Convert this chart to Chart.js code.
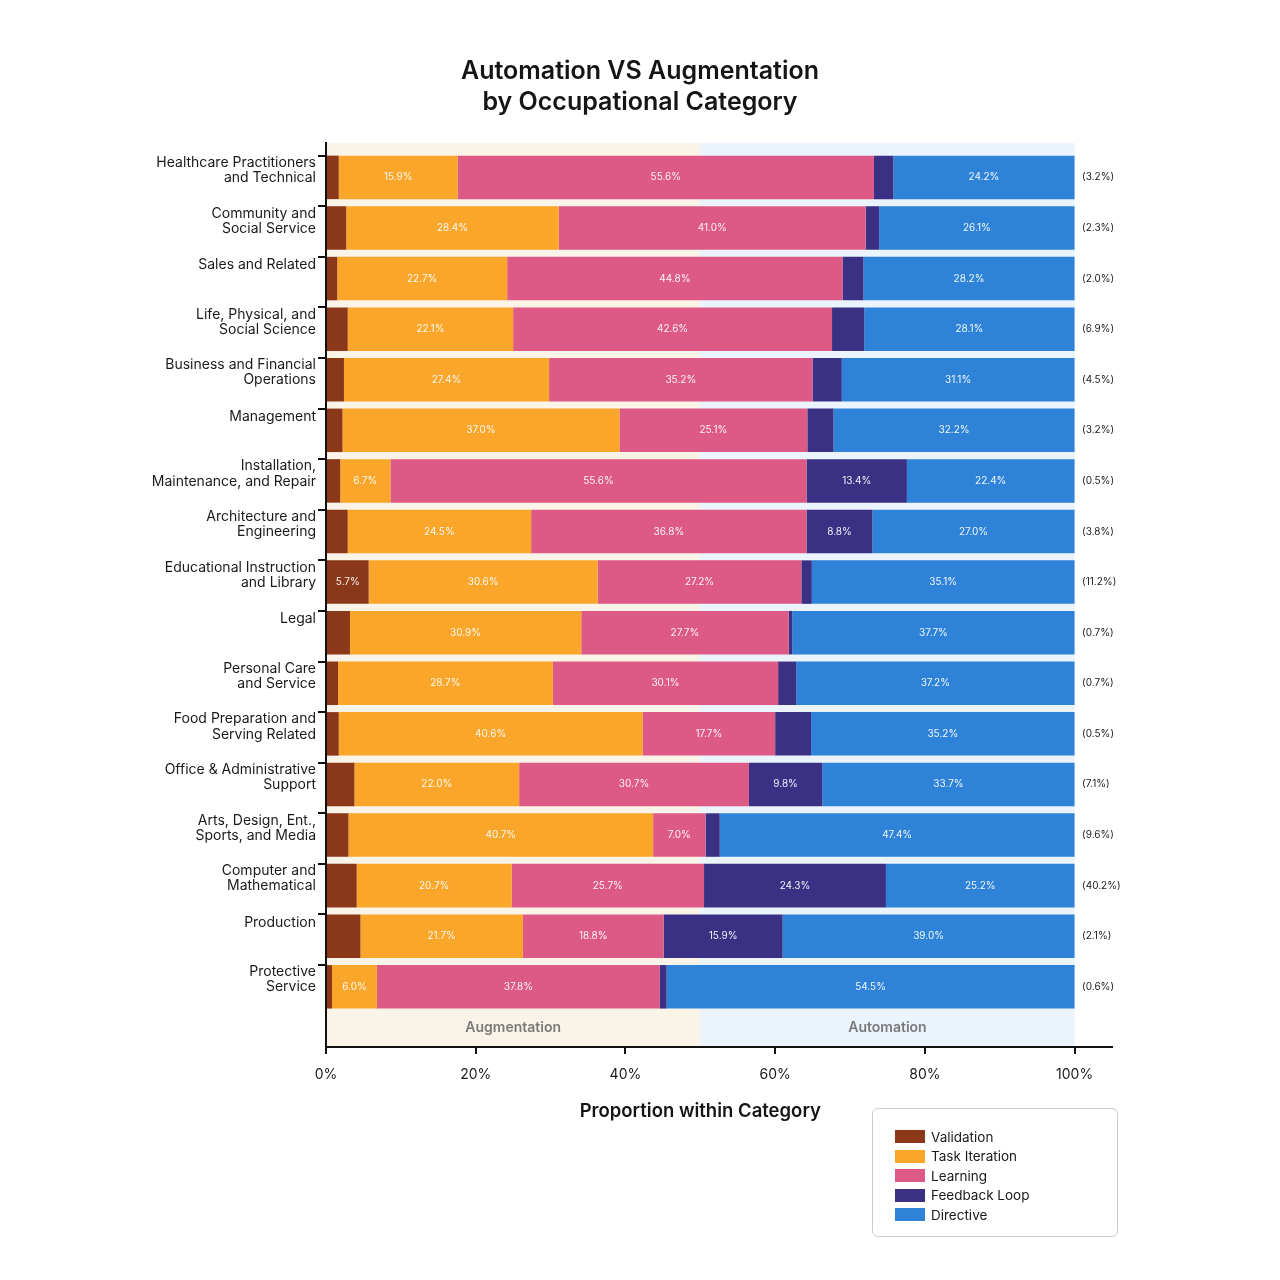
<!DOCTYPE html>
<html>
<head>
<meta charset="utf-8">
<title>Automation VS Augmentation by Occupational Category</title>
<script src="https://cdn.jsdelivr.net/npm/chart.js@4.4.1/dist/chart.umd.min.js"></script>
<style>
  body { margin: 0; background: #fff; }
  #wrap { position: relative; width: 1280px; height: 1280px; }
  #legend {
    position: absolute; left: 872px; top: 1108px; width: 246px; height: 129px;
    box-sizing: border-box; border: 1.5px solid #cbcac3; border-radius: 6px;
    padding: 18px 0 0 22px; font-family: Inter, "Noto Sans", sans-serif;
    font-size: 13.5px; color: #1a1a1a;
  }
  .item { display: flex; align-items: center; height: 19.5px; }
  .swatch { width: 30px; height: 13px; margin-right: 6px; }
</style>
</head>
<body>
<div id="wrap">
  <canvas id="chart"></canvas>
  <div id="legend"></div>
</div>
<script>
const categories = [
  'Healthcare Practitioners\nand Technical',
  'Community and\nSocial Service',
  'Sales and Related',
  'Life, Physical, and\nSocial Science',
  'Business and Financial\nOperations',
  'Management',
  'Installation,\nMaintenance, and Repair',
  'Architecture and\nEngineering',
  'Educational Instruction\nand Library',
  'Legal',
  'Personal Care\nand Service',
  'Food Preparation and\nServing Related',
  'Office & Administrative\nSupport',
  'Arts, Design, Ent.,\nSports, and Media',
  'Computer and\nMathematical',
  'Production',
  'Protective\nService'
]
const seriesNames = ['Validation', 'Task Iteration', 'Learning', 'Feedback Loop', 'Directive']
const validation = [1.7, 2.7, 1.5, 2.9, 2.4, 2.2, 1.9, 2.9, 5.7, 3.2, 1.6, 1.7, 3.8, 3.0, 4.1, 4.6, 0.8]
const taskIteration = [15.9, 28.4, 22.7, 22.1, 27.4, 37.0, 6.7, 24.5, 30.6, 30.9, 28.7, 40.6, 22.0, 40.7, 20.7, 21.7, 6.0]
const learning = [55.6, 41.0, 44.8, 42.6, 35.2, 25.1, 55.6, 36.8, 27.2, 27.7, 30.1, 17.7, 30.7, 7.0, 25.7, 18.8, 37.8]
const feedbackLoop = [2.6, 1.8, 2.8, 4.3, 3.9, 3.5, 13.4, 8.8, 1.4, 0.5, 2.4, 4.8, 9.8, 1.9, 24.3, 15.9, 0.9]
const directive = [24.2, 26.1, 28.2, 28.1, 31.1, 32.2, 22.4, 27.0, 35.1, 37.7, 37.2, 35.2, 33.7, 47.4, 25.2, 39.0, 54.5]
const categoryShare = [3.2, 2.3, 2.0, 6.9, 4.5, 3.2, 0.5, 3.8, 11.2, 0.7, 0.7, 0.5, 7.1, 9.6, 40.2, 2.1, 0.6]
const xTicks = [0, 20, 40, 60, 80, 100]
const zoneLabels = ['Augmentation', 'Automation']
const xTitle = 'Proportion within Category'

const colors = ['#8b3719', '#f9a62a', '#de5a86', '#3a3185', '#2e83d9']
const FONT = 'Inter, "Noto Sans", sans-serif'
Chart.defaults.font.family = FONT
Chart.defaults.color = '#1a1a1a'

const allSeries = [validation, taskIteration, learning, feedbackLoop, directive]
const datasets = allSeries.map((vals, s) => ({
  label: seriesNames[s],
  data: vals.map((v, i) => ({ x: v, y: i })),
  backgroundColor: colors[s],
  borderWidth: 0,
  categoryPercentage: 1,
  barPercentage: 0.86
}))

// shaded augmentation / automation zones behind the bars
const zoneBackground = {
  id: 'zoneBackground',
  beforeDraw(chart) {
    const { ctx, chartArea, scales } = chart
    const x = scales.x
    const x0 = x.getPixelForValue(0), x50 = x.getPixelForValue(50), x100 = x.getPixelForValue(100)
    const h = chartArea.bottom - chartArea.top
    ctx.save()
    ctx.fillStyle = '#faf3e8'
    ctx.fillRect(x0, chartArea.top, x50 - x0, h)
    ctx.fillStyle = '#ebf3fc'
    ctx.fillRect(x50, chartArea.top, x100 - x50, h)
    ctx.font = '600 14px ' + FONT
    ctx.fillStyle = '#7a7a7a'
    ctx.textAlign = 'center'
    ctx.textBaseline = 'middle'
    const yz = scales.y.getPixelForValue(categories.length - 1 + 0.81)
    ctx.fillText(zoneLabels[0], x.getPixelForValue(25), yz)
    ctx.fillText(zoneLabels[1], x.getPixelForValue(75), yz)
    // axis title, centred under the 0-100% range
    ctx.font = '600 18.5px ' + FONT
    ctx.fillStyle = '#151515'
    ctx.fillText(xTitle, x.getPixelForValue(50), 1111)
    ctx.restore()
  }
}

// value labels inside segments and category share at the right
const barLabels = {
  id: 'barLabels',
  afterDatasetsDraw(chart) {
    const { ctx, scales } = chart
    ctx.save()
    ctx.textAlign = 'center'
    ctx.textBaseline = 'middle'
    ctx.font = '10px ' + FONT
    ctx.fillStyle = 'rgba(255,255,255,0.93)'
    chart.data.datasets.forEach((ds, di) => {
      chart.getDatasetMeta(di).data.forEach((bar, i) => {
        const v = ds.data[i].x
        if (v < 5) return
        const p = bar.getProps(['x', 'base', 'y'], true)
        ctx.fillText(v.toFixed(1) + '%', (p.x + p.base) / 2, p.y)
      })
    })
    ctx.textAlign = 'left'
    ctx.fillStyle = '#1a1a1a'
    categoryShare.forEach((v, i) => {
      ctx.fillText('(' + v.toFixed(1) + '%)', scales.x.getPixelForValue(101), scales.y.getPixelForValue(i))
    })
    ctx.restore()
  }
}

const legend = document.getElementById('legend')
seriesNames.forEach((name, s) => {
  const row = document.createElement('div')
  row.className = 'item'
  row.innerHTML = '<span class="swatch" style="background:' + colors[s] + '"></span>' + name
  legend.appendChild(row)
})

const yMin = -0.68
const yMax = categories.length - 1 + 1.19

new Chart(document.getElementById('chart'), {
  type: 'bar',
  data: { datasets },
  plugins: [zoneBackground, barLabels],
  options: {
    indexAxis: 'y',
    responsive: true,
    maintainAspectRatio: false,
    animation: false,
    layout: { padding: { top: 44, right: 0, bottom: 193, left: 0 } },
    plugins: {
      legend: { display: false },
      tooltip: { enabled: true },
      title: {
        display: true,
        text: ['Automation VS Augmentation', 'by Occupational Category'],
        font: { size: 25, weight: '600', lineHeight: 1.24 },
        color: '#151515',
        padding: { top: 12, bottom: 25 }
      }
    },
    scales: {
      x: {
        type: 'linear',
        stacked: true,
        min: 0,
        max: 105,
        afterBuildTicks(scale) {
          scale.ticks = xTicks.map(v => ({ value: v }))
        },
        afterFit(scale) {
          scale.height = 40
        },
        grid: { drawOnChartArea: false, tickLength: 7, color: '#111', lineWidth: 2 },
        border: { color: '#111', width: 2 },
        ticks: {
          padding: 12,
          font: { size: 14 },
          color: '#1a1a1a',
          callback: v => v + '%'
        }
      },
      y: {
        type: 'linear',
        stacked: true,
        reverse: true,
        offset: false,
        min: yMin,
        max: yMax,
        z: 1,
        afterBuildTicks(scale) {
          // tick marks sit on the top edge of each bar
          scale.ticks = categories.map((c, i) => ({ value: i - 0.43 }))
        },
        afterFit(scale) {
          scale.width = 8
        },
        grid: { offset: false, drawOnChartArea: false, tickLength: 8, color: '#111', lineWidth: 2 },
        border: { color: '#111', width: 2 },
        ticks: { display: false }
      },
      yl: {
        type: 'linear',
        position: 'left',
        reverse: true,
        offset: false,
        min: yMin,
        max: yMax,
        weight: 1,
        afterBuildTicks(scale) {
          scale.ticks = categories.map((c, i) => ({ value: i - (c.includes('\n') ? 0.14 : 0.27) }))
        },
        afterFit(scale) {
          scale.width = 318
        },
        grid: { display: false, drawTicks: false, offset: false },
        border: { display: false },
        ticks: {
          padding: 2,
          font: { size: 14, lineHeight: 1.08 },
          color: '#1a1a1a',
          callback: (v, i) => categories[i].split('\n')
        }
      },
      // empty right-hand gutter so the chart title centres on the page
      gutter: {
        type: 'linear',
        position: 'right',
        grid: { display: false },
        border: { display: false },
        ticks: { display: false },
        afterFit(scale) {
          scale.width = 168
        }
      }
    }
  }
})
</script>
</body>
</html>
